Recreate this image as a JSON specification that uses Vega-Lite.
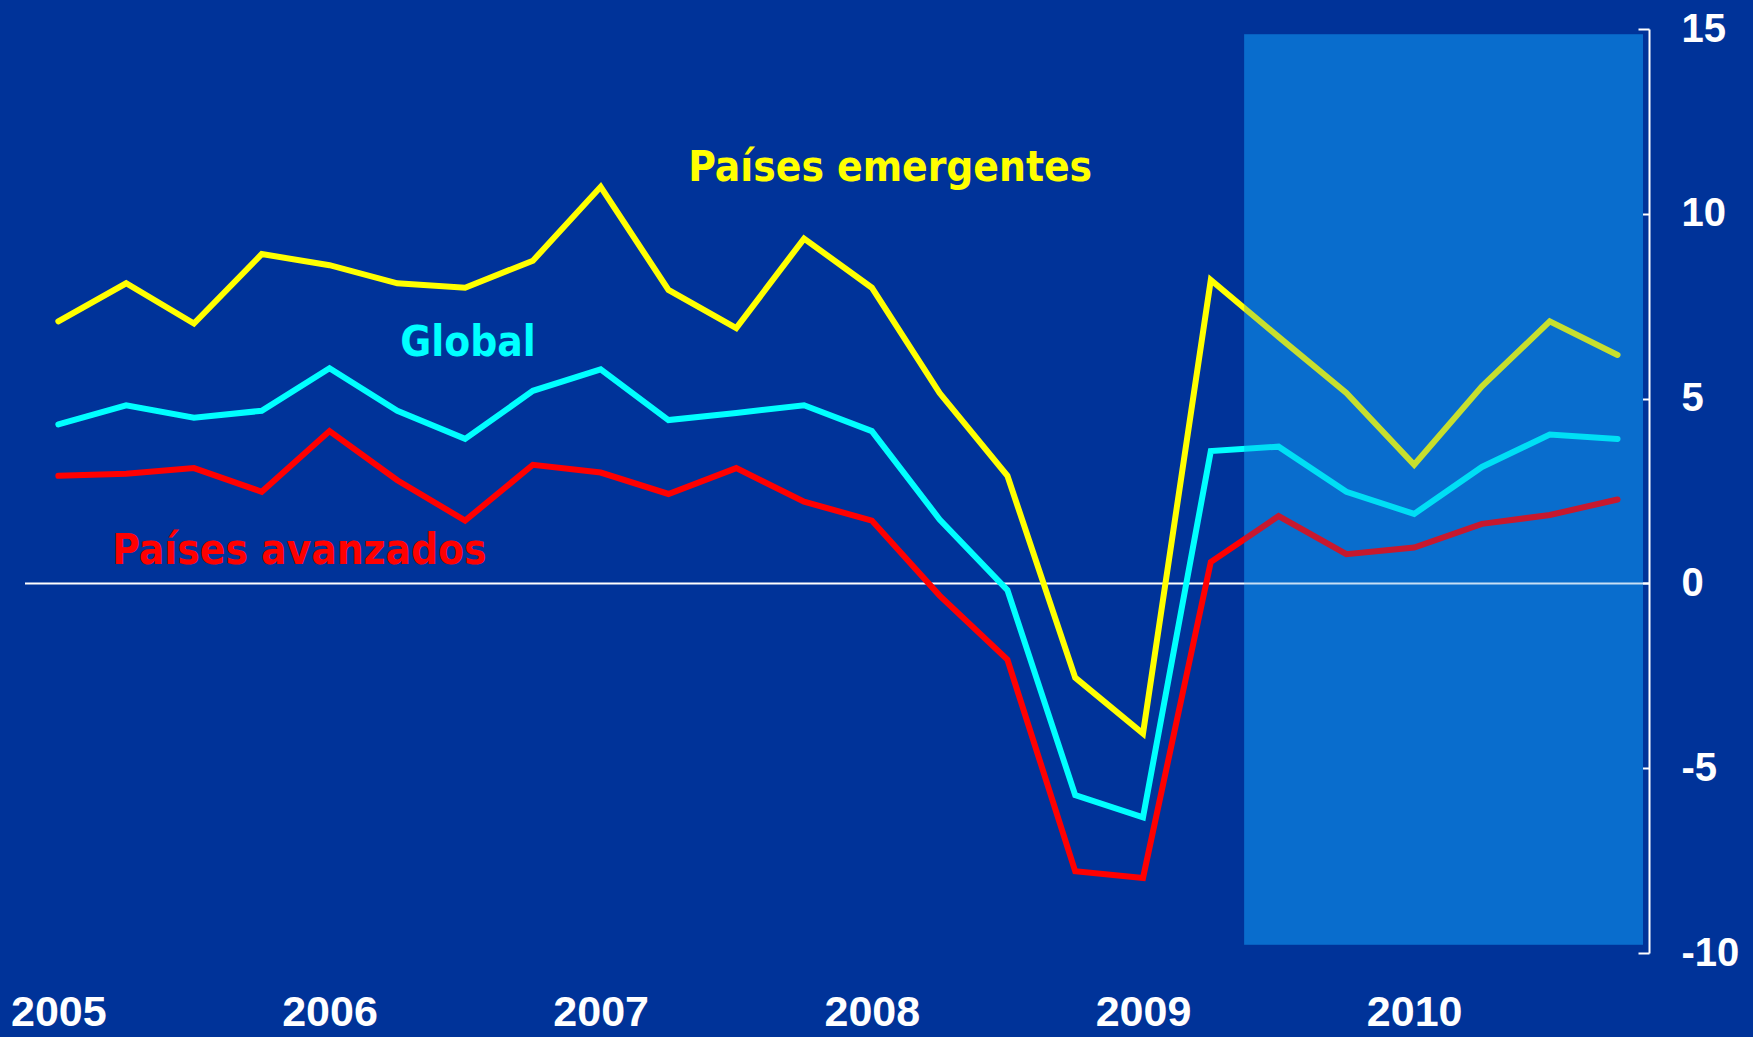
{
  "$schema": "https://vega.github.io/schema/vega-lite/v6.json",
  "width": 1624,
  "height": 924,
  "autosize": {"type": "none"},
  "padding": {"left": 25, "top": 29, "right": 104, "bottom": 84},
  "background": "#003399",
  "config": {"view": {"stroke": null}},
  "datasets": {
    "series": [
      {"t": 2005.00, "serie": "Países emergentes", "v": 7.09},
      {"t": 2005.25, "serie": "Países emergentes", "v": 8.12},
      {"t": 2005.50, "serie": "Países emergentes", "v": 7.03},
      {"t": 2005.75, "serie": "Países emergentes", "v": 8.91},
      {"t": 2006.00, "serie": "Países emergentes", "v": 8.61},
      {"t": 2006.25, "serie": "Países emergentes", "v": 8.12},
      {"t": 2006.50, "serie": "Países emergentes", "v": 8.00},
      {"t": 2006.75, "serie": "Países emergentes", "v": 8.73},
      {"t": 2007.00, "serie": "Países emergentes", "v": 10.73},
      {"t": 2007.25, "serie": "Países emergentes", "v": 7.94},
      {"t": 2007.50, "serie": "Países emergentes", "v": 6.91},
      {"t": 2007.75, "serie": "Países emergentes", "v": 9.33},
      {"t": 2008.00, "serie": "Países emergentes", "v": 8.00},
      {"t": 2008.25, "serie": "Países emergentes", "v": 5.15},
      {"t": 2008.50, "serie": "Países emergentes", "v": 2.91},
      {"t": 2008.75, "serie": "Países emergentes", "v": -2.55},
      {"t": 2009.00, "serie": "Países emergentes", "v": -4.06},
      {"t": 2009.25, "serie": "Países emergentes", "v": 8.21},
      {"t": 2009.50, "serie": "Países emergentes", "v": 6.67},
      {"t": 2009.75, "serie": "Países emergentes", "v": 5.15},
      {"t": 2010.00, "serie": "Países emergentes", "v": 3.21},
      {"t": 2010.25, "serie": "Países emergentes", "v": 5.33},
      {"t": 2010.50, "serie": "Países emergentes", "v": 7.09},
      {"t": 2010.75, "serie": "Países emergentes", "v": 6.18},
      {"t": 2005.00, "serie": "Global", "v": 4.30},
      {"t": 2005.25, "serie": "Global", "v": 4.82},
      {"t": 2005.50, "serie": "Global", "v": 4.48},
      {"t": 2005.75, "serie": "Global", "v": 4.67},
      {"t": 2006.00, "serie": "Global", "v": 5.82},
      {"t": 2006.25, "serie": "Global", "v": 4.67},
      {"t": 2006.50, "serie": "Global", "v": 3.91},
      {"t": 2006.75, "serie": "Global", "v": 5.21},
      {"t": 2007.00, "serie": "Global", "v": 5.79},
      {"t": 2007.25, "serie": "Global", "v": 4.42},
      {"t": 2007.50, "serie": "Global", "v": 4.61},
      {"t": 2007.75, "serie": "Global", "v": 4.82},
      {"t": 2008.00, "serie": "Global", "v": 4.12},
      {"t": 2008.25, "serie": "Global", "v": 1.73},
      {"t": 2008.50, "serie": "Global", "v": -0.18},
      {"t": 2008.75, "serie": "Global", "v": -5.73},
      {"t": 2009.00, "serie": "Global", "v": -6.33},
      {"t": 2009.25, "serie": "Global", "v": 3.58},
      {"t": 2009.50, "serie": "Global", "v": 3.70},
      {"t": 2009.75, "serie": "Global", "v": 2.48},
      {"t": 2010.00, "serie": "Global", "v": 1.88},
      {"t": 2010.25, "serie": "Global", "v": 3.15},
      {"t": 2010.50, "serie": "Global", "v": 4.03},
      {"t": 2010.75, "serie": "Global", "v": 3.91},
      {"t": 2005.00, "serie": "Países avanzados", "v": 2.91},
      {"t": 2005.25, "serie": "Países avanzados", "v": 2.97},
      {"t": 2005.50, "serie": "Países avanzados", "v": 3.12},
      {"t": 2005.75, "serie": "Países avanzados", "v": 2.48},
      {"t": 2006.00, "serie": "Países avanzados", "v": 4.12},
      {"t": 2006.25, "serie": "Países avanzados", "v": 2.79},
      {"t": 2006.50, "serie": "Países avanzados", "v": 1.70},
      {"t": 2006.75, "serie": "Países avanzados", "v": 3.21},
      {"t": 2007.00, "serie": "Países avanzados", "v": 3.00},
      {"t": 2007.25, "serie": "Países avanzados", "v": 2.42},
      {"t": 2007.50, "serie": "Países avanzados", "v": 3.12},
      {"t": 2007.75, "serie": "Países avanzados", "v": 2.21},
      {"t": 2008.00, "serie": "Países avanzados", "v": 1.70},
      {"t": 2008.25, "serie": "Países avanzados", "v": -0.33},
      {"t": 2008.50, "serie": "Países avanzados", "v": -2.06},
      {"t": 2008.75, "serie": "Países avanzados", "v": -7.79},
      {"t": 2009.00, "serie": "Países avanzados", "v": -7.97},
      {"t": 2009.25, "serie": "Países avanzados", "v": 0.58},
      {"t": 2009.50, "serie": "Países avanzados", "v": 1.82},
      {"t": 2009.75, "serie": "Países avanzados", "v": 0.79},
      {"t": 2010.00, "serie": "Países avanzados", "v": 0.97},
      {"t": 2010.25, "serie": "Países avanzados", "v": 1.61},
      {"t": 2010.50, "serie": "Países avanzados", "v": 1.85},
      {"t": 2010.75, "serie": "Países avanzados", "v": 2.27}
    ],
    "shade": [{"t0": 2009.373, "t1": 2010.844, "v0": -9.78, "v1": 14.86}],
    "labels": [
      {"t": 2007.323, "v": 11.24, "serie": "Países emergentes", "txt": "Países emergentes"},
      {"t": 2006.261, "v": 6.51, "serie": "Global", "txt": "Global"},
      {"t": 2005.199, "v": 0.89, "serie": "Países avanzados", "txt": "Países avanzados"}
    ]
  },
  "layer": [
    {
      "data": {"name": "shade"},
      "mark": {"type": "rect", "color": "#0c6ecc", "opacity": 1},
      "encoding": {
        "x": {"field": "t0", "type": "quantitative", "scale": {"domain": [2004.877, 2010.866], "nice": false, "zero": false}},
        "x2": {"field": "t1"},
        "y": {"field": "v0", "type": "quantitative", "scale": {"domain": [-10, 15], "nice": false, "zero": false}},
        "y2": {"field": "v1"}
      }
    },
    {
      "data": {"values": [{"z": 0}]},
      "mark": {"type": "rule", "color": "white", "strokeWidth": 2},
      "encoding": {"y": {"field": "z", "type": "quantitative"}}
    },
    {
      "data": {"name": "series"},
      "mark": {"type": "line", "strokeWidth": 6, "strokeJoin": "miter", "strokeCap": "round"},
      "encoding": {
        "x": {
          "field": "t", "type": "quantitative",
          "axis": {
            "orient": "bottom", "values": [2005, 2006, 2007, 2008, 2009, 2010], "format": "d",
            "domain": false, "ticks": false, "tickSize": 0, "grid": false, "title": null,
            "labelColor": "white", "labelFont": "Liberation Sans", "labelFontWeight": "bold",
            "labelFontSize": 43, "labelBaseline": "alphabetic", "labelPadding": 72, "labelFlush": false, "labelOverlap": false
          }
        },
        "y": {
          "field": "v", "type": "quantitative",
          "axis": {
            "orient": "right", "values": [-10, -5, 0, 5, 10, 15], "grid": false, "title": null,
            "labelExpr": "'' + datum.value",
            "domainColor": "white", "domainWidth": 2, "tickColor": "white", "tickWidth": 2, "tickSize": -11,
            "labelColor": "white", "labelFont": "Liberation Sans", "labelFontWeight": "bold", "labelFontSize": 40,
            "labelPadding": 43, "labelAlign": "left", "labelBaseline": "middle", "labelFlush": false, "labelOverlap": false
          }
        },
        "color": {
          "field": "serie", "type": "nominal",
          "scale": {"domain": ["Países emergentes", "Global", "Países avanzados"], "range": ["#ffff00", "#00ffff", "#ff0000"]},
          "legend": null
        },
        "order": {"field": "t", "type": "quantitative"}
      }
    },
    {
      "data": {"name": "shade"},
      "mark": {"type": "rect", "color": "#006ed2", "opacity": 0.22},
      "encoding": {
        "x": {"field": "t0", "type": "quantitative"},
        "x2": {"field": "t1"},
        "y": {"field": "v0", "type": "quantitative"},
        "y2": {"field": "v1"}
      }
    },
    {
      "data": {"name": "labels"},
      "mark": {"type": "text", "align": "left", "baseline": "middle", "font": "DejaVu Sans Condensed", "fontWeight": "bold", "fontSize": 42},
      "encoding": {
        "x": {"field": "t", "type": "quantitative"},
        "y": {"field": "v", "type": "quantitative"},
        "text": {"field": "txt"},
        "color": {"field": "serie", "type": "nominal", "legend": null}
      }
    }
  ]
}
